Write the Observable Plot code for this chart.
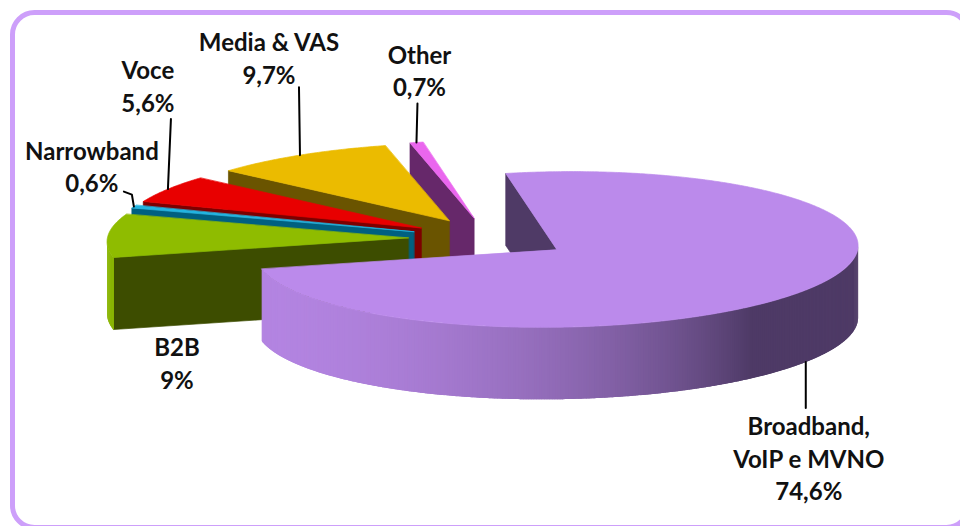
<!DOCTYPE html>
<html><head><meta charset="utf-8">
<script src="https://cdn.jsdelivr.net/npm/d3@7"></script>
<script src="https://cdn.jsdelivr.net/npm/@observablehq/plot@0.6"></script>
<style>body{margin:0;background:#fff;overflow:hidden}</style>
</head><body><div id="chart"></div>
<script>
// ---- data ----
const categories = ["Broadband, VoIP e MVNO", "B2B", "Narrowband", "Voce", "Media & VAS", "Other"];
const shares = [74.6, 9, 0.6, 5.6, 9.7, 0.7];
const labelNames = ["Broadband,\nVoIP e MVNO", "B2B", "Narrowband", "Voce", "Media & VAS", "Other"];

// ---- styles ----
const topColors  = ["#bb8aeb", "#8fbc00", "#22b4e0", "#e80000", "#ebbb00", "#ea66ee"];
const faceColors = ["#4f3a66", "#3d4d00", "#006080", "#7d0000", "#6a5400", "#66286a"];
const sideDark   = ["#4e3a66", "#4a6000", "#006080", "#7d0000", "#6a5400", "#66286a"];

// ---- 3D pie layout (pixels) ----
const W = 960, H = 526;
const C = [489, 238];          // pie centre before explosion
const A = [297, -17];          // screen vector of the pie's "right" axis
const B = [-51, -76];          // screen vector of the pie's "back" axis
const depth = 72;              // thickness
const explode = 0.27;          // explosion (fraction of radius)

// label layout: leader anchor ("top" rim or "bottom" of side), leader offsets, text offset (to first baseline)
const labelLayout = [
  {anchor: "bottom", lead: [[0, 46]], text: [3, 26]},
  {anchor: "bottom", lead: [], text: [69, 47]},
  {anchor: "top", lead: [[-2, -12], [-10, -15]], text: [-32, -33]},
  {anchor: "top", lead: [[3, -70]], text: [-23, -41]},
  {anchor: "top", lead: [[-1, -68]], text: [-30, -37]},
  {anchor: "top", lead: [[1, -39]], text: [2, -41]}
];

const rad = d => d * Math.PI / 180;
const dir = th => [A[0] * Math.sin(rad(th)) + B[0] * Math.cos(rad(th)),
                   A[1] * Math.sin(rad(th)) + B[1] * Math.cos(rad(th))];
const total = d3.sum(shares);
let cum = 0;
const slices = shares.map((v, i) => {
  const s = cum / total * 360; cum += v; const e = cum / total * 360;
  const mid = (s + e) / 2, d = dir(mid);
  return {i, s, e, mid, apex: [C[0] + explode * d[0], C[1] + explode * d[1]]};
});
const rim = (sl, th) => { const d = dir(th); return [sl.apex[0] + d[0], sl.apex[1] + d[1]]; };
const down = p => [p[0], p[1] + depth];
const thR = (Math.atan2(A[0], B[0]) * 180 / Math.PI + 360) % 360; // right silhouette
const inFront = th => { const t = ((th - thR) % 360 + 360) % 360; return t > 0 && t < 180; };
const shade = th => { const t = Math.max(0, Math.min(1, (268 - th) / 118)); return Math.pow(t, 2.5); };

const polys = [];
let pid = 0;
function addPoly(pts, fill, stroke) {
  const id = pid++;
  pts.forEach(p => polys.push({id, x: p[0], y: p[1], fill, stroke: stroke ? fill : "none"}));
}
const paintOrder = [5, 4, 3, 2, 1, 0];
for (const i of paintOrder) {
  const sl = slices[i];
  // radial faces
  if (inFront(sl.s - 90)) {
    const r = rim(sl, sl.s);
    addPoly([sl.apex, r, down(r), down(sl.apex)], faceColors[i], true);
  }
  if (inFront(sl.e + 90)) {
    const r = rim(sl, sl.e);
    addPoly([sl.apex, r, down(r), down(sl.apex)], faceColors[i], true);
  }
  // curved side: thin overlapping strips give the shading
  const n = Math.ceil((sl.e - sl.s) * 2);
  const light = d3.color(topColors[i]).darker(0.12).formatHex();
  for (let k = 0; k < n; k++) {
    const t0 = sl.s + (sl.e - sl.s) * k / n, t1 = sl.s + (sl.e - sl.s) * (k + 1) / n;
    if (!inFront((t0 + t1) / 2)) continue;
    const lo = Math.max(t0 - 0.6, inFront(t0 - 0.6) ? t0 - 0.6 : t0);
    const p0 = rim(sl, lo), p1 = rim(sl, t1), pm = rim(sl, (lo + t1) / 2);
    addPoly([p0, pm, p1, down(p1), down(pm), down(p0)], d3.interpolateRgb(light, sideDark[i])(shade((t0 + t1) / 2)), false);
  }
  // top face
  const pts = [sl.apex];
  const m = Math.ceil(sl.e - sl.s) * 2;
  for (let k = 0; k <= m; k++) pts.push(rim(sl, sl.s + (sl.e - sl.s) * k / m));
  addPoly(pts, topColors[i], true);
}

// labels and leaders
const fs = 24;
const leaders = [], texts = [];
slices.forEach((sl, i) => {
  const L = labelLayout[i];
  let p = rim(sl, sl.mid);
  if (L.anchor === "bottom") p = down(p);
  const pts = [p, ...L.lead.map(o => [p[0] + o[0], p[1] + o[1]])];
  if (L.lead.length) pts.forEach(q => leaders.push({id: i, x: q[0], y: q[1]}));
  const end = pts[pts.length - 1];
  texts.push({x: end[0] + L.text[0], y: end[1] + L.text[1] - 0.71 * fs - 5,
              text: labelNames[i] + "\n" + String(shares[i]).replace(".", ",") + "%"});
});

const chart = Plot.plot({
  width: W, height: H,
  marginTop: 0, marginRight: 0, marginBottom: 0, marginLeft: 0,
  x: {domain: [0, W], range: [0, W], axis: null},
  y: {domain: [0, H], range: [0, H], axis: null},
  style: {background: "#fff"},
  marks: [
    Plot.line(polys, {x: "x", y: "y", z: "id", fill: "fill", stroke: "stroke", strokeWidth: 0.7, curve: "linear-closed"}),
    Plot.line(leaders, {x: "x", y: "y", z: "id", stroke: "#000", strokeWidth: 2}),
    Plot.text(texts, {x: "x", y: "y", text: "text", textAnchor: "middle", lineAnchor: "top", lineHeight: 1.36,
      fontSize: fs, fontWeight: "bold", fontFamily: "Lato", fill: "#111"}),
    Plot.frame({stroke: "#cd9ffa", strokeWidth: 5, rx: 22, insetLeft: 12, insetTop: 12, insetRight: -8, insetBottom: -1})
  ]
});
document.getElementById("chart").appendChild(chart);
</script>
</body></html>
